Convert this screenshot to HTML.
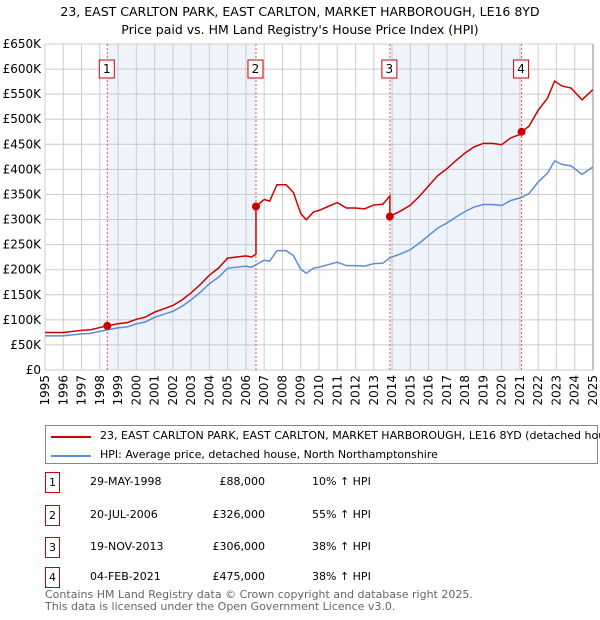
<!DOCTYPE html>
<html><head><meta charset="utf-8"><style>
body{margin:0;background:#fff;font-family:"DejaVu Sans","Liberation Sans",sans-serif;}
#wrap{position:relative;width:600px;height:620px;overflow:hidden}
.t{position:absolute;font-size:11px;color:#000;white-space:nowrap}
.nb{position:absolute;left:45px;width:15px;height:21px;border:1px solid #c00;box-sizing:border-box;font-size:11px;text-align:center;line-height:19px}
</style></head><body><div id="wrap">
<svg id="chart" width="600" height="420" style="position:absolute;left:0;top:0">
<text x="300" y="16" text-anchor="middle" font-size="12.5" font-family="DejaVu Sans, sans-serif">23, EAST CARLTON PARK, EAST CARLTON, MARKET HARBOROUGH, LE16 8YD</text>
<text x="300" y="34" text-anchor="middle" font-size="12.5" font-family="DejaVu Sans, sans-serif">Price paid vs. HM Land Registry's House Price Index (HPI)</text>
<g id="g"></g>
</svg>
<div style="position:absolute;left:45px;top:425px;width:553px;height:39px;border:1px solid #888;box-sizing:border-box">
<div style="position:absolute;left:5px;top:10px;width:40px;height:2px;background:#c00"></div>
<div class="t" style="left:54px;top:3px">23, EAST CARLTON PARK, EAST CARLTON, MARKET HARBOROUGH, LE16 8YD (detached house)</div>
<div style="position:absolute;left:5px;top:29px;width:40px;height:2px;background:#5b8ed6"></div>
<div class="t" style="left:54px;top:22px">HPI: Average price, detached house, North Northamptonshire</div>
</div>
<div id="tbl"></div>
<div class="t" style="left:45px;top:589px;color:#666;font-size:11px;line-height:12px">Contains HM Land Registry data © Crown copyright and database right 2025.<br>This data is licensed under the Open Government Licence v3.0.</div>
</div>
<script>
const hpiDates=[1995.0,1996.0,1997.0,1997.5,1998.0,1998.4,1999.0,1999.5,2000.0,2000.5,2001.0,2001.5,2002.0,2002.5,2003.0,2003.5,2004.0,2004.5,2005.0,2005.5,2006.0,2006.3,2006.55,2007.0,2007.3,2007.7,2008.2,2008.6,2009.0,2009.3,2009.7,2010.0,2010.5,2011.0,2011.5,2012.0,2012.5,2013.0,2013.5,2013.9,2014.5,2015.0,2015.5,2016.0,2016.5,2017.0,2017.5,2018.0,2018.5,2019.0,2019.5,2020.0,2020.5,2021.1,2021.5,2022.0,2022.5,2022.9,2023.3,2023.8,2024.4,2024.8,2025.0];
const hpiValues=[68,68,72,73,77,80,84,86,92,96,105,111,117,127,140,155,172,185,203,205,207,205,210,219,217,238,238,228,201,193,203,205,210,215,208,208,207,212,213,224,232,240,253,268,283,293,305,316,325,330,330,328,338,344,352,375,392,417,410,407,390,400,405];
const saleDates=[1998.41,2006.55,2013.88,2021.09];
const salePrices=[88,326,306,475];
const saleLabels=["1","2","3","4"];
const saleDateText=["29-MAY-1998","20-JUL-2006","19-NOV-2013","04-FEB-2021"];
const salePriceText=["£88,000","£326,000","£306,000","£475,000"];
const salePctText=["10% ↑ HPI","55% ↑ HPI","38% ↑ HPI","38% ↑ HPI"];
const yTicks=[0,50,100,150,200,250,300,350,400,450,500,550,600,650];
const xYears=[1995,1996,1997,1998,1999,2000,2001,2002,2003,2004,2005,2006,2007,2008,2009,2010,2011,2012,2013,2014,2015,2016,2017,2018,2019,2020,2021,2022,2023,2024,2025];

const X0=45,X1=593,Y0=370,Y1=44;
const xs=y=>X0+(y-1995)*(X1-X0)/30;
const ys=v=>Y0-v*(Y0-Y1)/650;
const NS="http://www.w3.org/2000/svg";
const g=document.getElementById('g');
function mk(t,a){const e=document.createElementNS(NS,t);for(const k in a)e.setAttribute(k,a[k]);g.appendChild(e);return e;}
function hpiAt(d){for(let i=1;i<hpiDates.length;i++){if(d<=hpiDates[i]){const f=(d-hpiDates[i-1])/(hpiDates[i]-hpiDates[i-1]);return hpiValues[i-1]+f*(hpiValues[i]-hpiValues[i-1]);}}return hpiValues[hpiValues.length-1];}
for(let i=0;i<saleDates.length;i+=2){
 const r=mk('rect',{x:xs(saleDates[i]),y:Y1,width:xs(saleDates[i+1])-xs(saleDates[i]),height:Y0-Y1,fill:'#eef3fc'});
 
 
}
yTicks.forEach(v=>{
 const l=mk('line',{x1:X0,x2:X1,y1:ys(v),y2:ys(v),stroke:'#ccc','stroke-width':1});
 
 
 const t=mk('text',{x:41,y:ys(v)+4,'text-anchor':'end','font-size':12,'font-family':'DejaVu Sans, sans-serif'});
 t.textContent=v===0?'£0':'£'+v+'K';
 
 
});
xYears.forEach(yr=>{
 const l=mk('line',{x1:xs(yr),x2:xs(yr),y1:Y1,y2:Y0,stroke:'#ccc','stroke-width':1});
 
 
 const t=mk('text',{x:0,y:0,'text-anchor':'end','font-size':12,'font-family':'DejaVu Sans, sans-serif',transform:`translate(${xs(yr)+4},${Y0+5}) rotate(-90)`});
 t.textContent=yr;
 
 
});
saleDates.forEach((d,i)=>{
 const l=mk('line',{x1:xs(d),x2:xs(d),y1:Y1,y2:Y0,stroke:'#e55','stroke-width':1,'stroke-dasharray':'2,2'});
 
 
});
const hp=mk('polyline',{points:hpiDates.map((d,i)=>xs(d)+','+ys(hpiValues[i])).join(' '),fill:'none',stroke:'#5b8ed6','stroke-width':1.5});


const ratios=saleDates.map((d,i)=>salePrices[i]/hpiAt(d));
function ratioAt(d){let r=ratios[0];for(let i=0;i<saleDates.length;i++)if(d>=saleDates[i])r=ratios[i];return r;}
let pts=[];
const allD=hpiDates.concat(saleDates).sort((a,b)=>a-b);
allD.forEach(d=>{
 const sIdx=saleDates.indexOf(d);
 if(sIdx>0){pts.push([d,hpiAt(d)*ratios[sIdx-1]]);}
 pts.push([d,hpiAt(d)*ratioAt(d)]);
});
const rp=mk('polyline',{points:pts.map(p=>xs(p[0])+','+ys(p[1])).join(' '),fill:'none',stroke:'#c00','stroke-width':1.5});


saleDates.forEach((d,i)=>{
 const c=mk('circle',{cx:xs(d),cy:ys(salePrices[i]),r:4,fill:'#c00'});
 
 
 const b=mk('rect',{x:xs(d)-8,y:60,width:15,height:18,fill:'#fff',stroke:'#c00'});
 
 
 const t=mk('text',{x:xs(d)-0.5,y:73,'text-anchor':'middle','font-size':12,'font-family':'DejaVu Sans, sans-serif'});
 t.textContent=saleLabels[i];
 
 
});
const ax=mk('line',{x1:X1,x2:X1,y1:Y1,y2:Y0,stroke:'#888','stroke-width':1});



const tbl=document.getElementById('tbl');
const rowY=[482,515,547,577];
for(let i=0;i<saleLabels.length;i++){
 const y=rowY[i];
 const nb=document.createElement('div');nb.className='nb';nb.style.top=(y-10)+'px';nb.textContent=saleLabels[i];
 
 
 tbl.appendChild(nb);
 const a=document.createElement('div');a.className='t';a.style.left='90px';a.style.top=(y-7)+'px';a.textContent=saleDateText[i];
 
 
 tbl.appendChild(a);
 const p=document.createElement('div');p.className='t';p.style.right=(600-265)+'px';p.style.top=(y-7)+'px';p.textContent=salePriceText[i];
 
 
 tbl.appendChild(p);
 const c=document.createElement('div');c.className='t';c.style.left='312px';c.style.top=(y-7)+'px';c.textContent=salePctText[i];
 
 
 tbl.appendChild(c);
}
</script>
</body></html>
